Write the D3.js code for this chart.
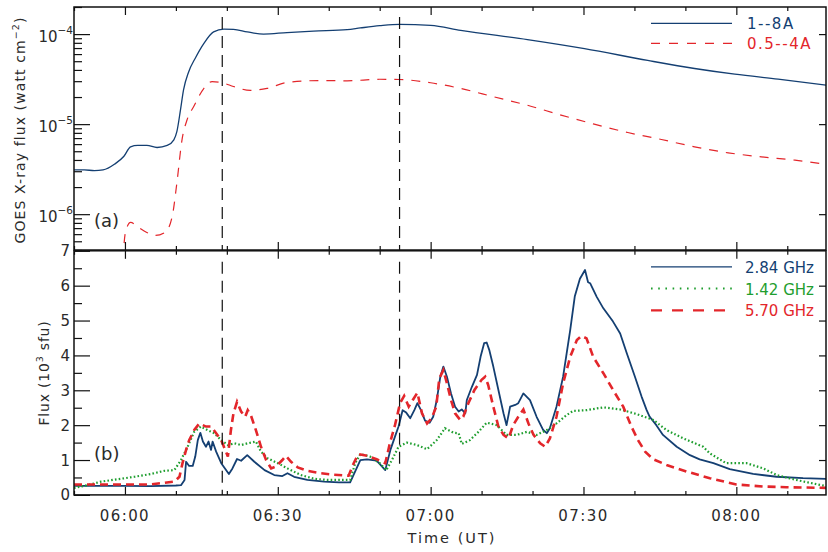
<!DOCTYPE html>
<html><head><meta charset="utf-8">
<script src="https://cdn.jsdelivr.net/npm/d3@7"></script>
<style>
body{margin:0;background:#fff}
svg{display:block}
text{font-family:"DejaVu Sans",sans-serif;fill:#2a2a2a}
</style>
</head><body>
<svg id="c" width="828" height="552"></svg>
<script>
// ---------- DATA (time in minutes after 06:00 UT) ----------
const tickTimes = [0, 30, 60, 90, 120];
const tickLabels = ["06:00", "06:30", "07:00", "07:30", "08:00"];
const minorTimes = [-10,0,10,20,30,40,50,60,70,80,90,100,110,120,130];
const markerTimes = [19.1, 53.9];

// GOES 1--8 A (watt cm^-2)
const goesLongT = [-10,-8,-6,-4.3,-2,-0.2,1.1,2.5,4.3,6.3,8.3,9.6,10.2,10.9,11.5,12.5,13.8,15.5,17.4,19.4,21.3,24,27.2,31.8,37,43.6,46.2,50,53.9,60,65.9,79,90.2,102.6,111.8,119.7,128.2,138];
const goesLongV = [3.1e-6,3.1e-6,3.05e-6,3.1e-6,3.6e-6,4.4e-6,5.6e-6,5.8e-6,5.8e-6,5.5e-6,5.8e-6,6.7e-6,8.3e-6,1.44e-5,2.4e-5,3.8e-5,5.4e-5,7.9e-5,1.06e-4,1.135e-4,1.13e-4,1.06e-4,1.0e-4,1.04e-4,1.08e-4,1.12e-4,1.17e-4,1.24e-4,1.285e-4,1.25e-4,1.10e-4,8.7e-5,6.9e-5,5.1e-5,4.15e-5,3.59e-5,3.16e-5,2.7e-5];
// GOES 0.5--4 A
const goesShortT = [-0.6,0.1,1.1,2.7,4.2,6,7.9,9.3,10.2,11.2,12.2,13.5,15.5,17.1,19.4,21.3,24.6,27.9,31.8,38.3,43.6,50,53.9,60,65.9,72.4,79,85.6,92.1,98.7,105.3,111.8,118.4,124.9,131.5,138];
const goesShortV = [2e-7,6.3e-7,8.1e-7,7.1e-7,6.3e-7,5.8e-7,6.3e-7,9.6e-7,2.24e-6,6.7e-6,1.12e-5,1.57e-5,2.5e-5,2.97e-5,2.85e-5,2.62e-5,2.37e-5,2.5e-5,2.9e-5,3.05e-5,3.03e-5,3.15e-5,3.13e-5,2.88e-5,2.49e-5,2.01e-5,1.62e-5,1.26e-5,1.0e-5,8.07e-6,6.75e-6,5.6e-6,4.8e-6,4.33e-6,3.98e-6,3.55e-6];

// Radio flux (10^3 sfu)
const r284T = [-10,0,5,10,11,11.7,12,12.6,13.3,13.8,14.3,14.8,15.3,15.9,16.4,16.9,17.2,17.9,18.9,20.4,21.1,22,22.8,24,25.4,27.4,29.3,30.9,31.9,33.2,35.8,39.1,42,44.2,44.7,46.2,47.5,49.4,51.1,52.1,53,53.7,54.5,55.2,56,56.8,57.4,58.1,58.9,59.8,60.5,61.2,61.9,62.5,63.2,64,64.8,65.5,66.1,66.8,67.1,68.1,69.1,69.8,70.5,71,71.5,72.3,73.3,74.3,74.9,75.6,76.6,77.2,78.2,79.5,80.8,82.1,82.8,83.4,84.7,86,87.4,88.3,89.3,90.3,90.9,91.3,92.6,93.9,95.8,97.2,98.5,100.1,101.4,102.4,103,104.3,105.6,108.3,110.9,112.8,115.5,118.7,123.3,127.9,133.1,138];
const r284V = [0.26,0.26,0.25,0.27,0.28,0.43,0.95,0.83,0.83,1.1,1.57,1.78,1.53,1.38,1.53,1.29,1.53,1.24,0.91,0.6,0.76,1.03,0.98,1.14,0.95,0.71,0.57,0.54,0.62,0.52,0.43,0.38,0.36,0.36,0.52,1.0,1.02,0.98,0.71,1.29,1.67,1.96,2.43,2.36,2.2,2.43,2.63,2.43,2.13,2.07,2.24,2.72,3.39,3.68,3.39,2.91,2.53,2.39,2.45,2.34,2.72,3.1,3.44,3.96,4.35,4.37,4.16,3.68,3.01,2.34,2.0,2.53,2.58,2.63,2.91,2.72,2.24,1.86,1.77,1.91,2.53,3.39,4.73,5.7,6.2,6.45,6.1,6.07,5.68,5.35,4.97,4.63,4.06,3.39,2.82,2.43,2.24,2.0,1.72,1.38,1.14,1.02,0.91,0.74,0.6,0.52,0.48,0.46];

const r142T = [-10,-7.3,-4.7,-1.4,1.9,5.1,7.7,9.7,11,12.3,13.6,14.9,16.2,17.5,18.9,20.2,21.5,22.8,24.1,25.7,26.7,28,30,31.9,34.5,37.2,39.8,44.2,45.2,46.2,48.1,50,51.3,52.4,53.7,55.3,57.3,59.3,61.2,62.8,64.5,65.5,66.1,67.7,69.4,71,73,74.9,76.9,78.9,80.8,82.8,84.7,86.7,88,90.6,93.9,97.2,100.4,103.7,106.3,109.6,113.5,114.8,118,122,125.3,127.9,131.7,138];
const r142V = [0.2,0.28,0.38,0.45,0.52,0.6,0.69,0.71,1.0,1.38,1.81,1.96,1.86,1.77,1.57,1.43,1.48,1.43,1.48,1.53,1.24,1.05,0.91,0.76,0.57,0.46,0.43,0.43,0.91,1.17,1.1,0.91,0.71,1.0,1.38,1.5,1.43,1.31,1.57,1.91,1.78,1.77,1.46,1.57,1.81,2.07,2.0,1.72,1.72,1.81,1.72,1.86,2.05,2.29,2.41,2.43,2.51,2.45,2.32,2.15,1.86,1.62,1.38,1.19,0.91,0.91,0.76,0.57,0.43,0.24];

const r570T = [-10,0,5,9.7,10.7,11.3,12,12.6,13.6,14.6,15.9,16.9,17.9,18.9,20.2,20.8,21.3,22,22.8,23.6,24.1,24.7,25.7,26.7,27.7,28.7,29.6,30.9,31.6,32.6,33.9,35.8,38.5,41,43.9,44.9,45.8,47.5,49.4,51.1,52,53,54,54.8,55.7,56.5,57.4,58.3,59.3,60.2,61.1,61.7,62.5,63.2,64,64.8,65.8,66.4,67.4,68.6,70,70.7,71.3,72.3,73.3,74.3,75.3,76.2,77.2,78.2,79.2,80.2,81.5,82.5,83.4,84.7,86,87.4,88.7,89.6,90.6,91.9,93.9,95.8,97.8,99.4,100.7,102.1,103.7,106.3,110.2,114.8,120,125.3,129.8,138];
const r570V = [0.3,0.3,0.3,0.38,0.52,0.91,1.29,1.57,1.86,2.05,1.96,1.96,1.77,1.57,1.1,1.86,2.34,2.67,2.39,2.24,2.43,2.29,1.86,1.38,1.0,0.76,0.81,1.0,1.12,0.95,0.79,0.69,0.62,0.58,0.55,0.91,1.17,1.12,1.02,0.91,1.48,2.0,2.63,2.84,2.53,2.72,2.93,2.34,2.05,2.2,2.53,3.34,3.58,3.2,2.72,2.34,2.15,2.24,2.63,3.01,3.3,3.39,3.15,2.53,1.96,1.72,1.62,2.0,2.24,2.45,2.05,1.72,1.48,1.38,1.62,2.24,3.2,3.96,4.44,4.56,4.49,3.96,3.49,3.01,2.53,1.96,1.57,1.24,1.02,0.86,0.67,0.48,0.3,0.24,0.22,0.2];

const topLegend = ["1--8A", "0.5--4A"];
const botLegend = ["2.84 GHz", "1.42 GHz", "5.70 GHz"];
const decadeTicks = [1e-6, 1e-5, 1e-4];
const decadeExp = ["\u22126", "\u22125", "\u22124"];
const fluxTicks = [0,1,2,3,4,5,6,7];

// ---------- STYLE ----------
const BLUE = "#143f72", RED = "#e3262b", GREEN = "#1f9e2f", INK = "#111";
const L = 74, R = 826, T1 = 7, B1 = 250, T2 = 250.8, B2 = 494.9;

const svg = d3.select("#c");
const x = d3.scaleLinear().domain([-10, 137.6]).range([L, R]);
const yTop = d3.scaleLog().domain([4e-7, 2e-4]).range([B1, T1]);
const yBot = d3.scaleLinear().domain([0, 7]).range([B2, T2]);

const defs = svg.append("defs");
defs.append("clipPath").attr("id", "clipTop").append("rect").attr("x", L).attr("y", T1).attr("width", R - L).attr("height", B1 - T1);
defs.append("clipPath").attr("id", "clipBot").append("rect").attr("x", L).attr("y", T2).attr("width", R - L).attr("height", B2 - T2);

const zip = (a, b) => a.map((t, i) => [t, b[i]]);

// ---------- TOP PANEL ----------
const gTop = svg.append("g").attr("clip-path", "url(#clipTop)");
const lineTop = d3.line().x(d => x(d[0])).y(d => yTop(d[1])).curve(d3.curveMonotoneX);
gTop.append("path").attr("d", lineTop(zip(goesLongT, goesLongV)))
  .attr("fill", "none").attr("stroke", BLUE).attr("stroke-width", 1.3);
gTop.append("path").attr("d", lineTop(zip(goesShortT, goesShortV)))
  .attr("fill", "none").attr("stroke", RED).attr("stroke-width", 1.2).attr("stroke-dasharray", "9,8");

// ---------- BOTTOM PANEL ----------
const gBot = svg.append("g").attr("clip-path", "url(#clipBot)");
const lineBot = d3.line().x(d => x(d[0])).y(d => yBot(d[1]));
gBot.append("path").attr("d", lineBot(zip(r284T, r284V)))
  .attr("fill", "none").attr("stroke", BLUE).attr("stroke-width", 1.8).attr("stroke-linejoin", "round");
gBot.append("path").attr("d", lineBot(zip(r142T, r142V)))
  .attr("fill", "none").attr("stroke", GREEN).attr("stroke-width", 2.2).attr("stroke-dasharray", "1.6,2.2");
gBot.append("path").attr("d", lineBot(zip(r570T, r570V)))
  .attr("fill", "none").attr("stroke", RED).attr("stroke-width", 2.6).attr("stroke-dasharray", "8,5");

// ---------- marker lines ----------
markerTimes.forEach(t => {
  svg.append("line").attr("x1", x(t)).attr("x2", x(t)).attr("y1", T1 + 10).attr("y2", B1)
    .attr("stroke", INK).attr("stroke-width", 1.2).attr("stroke-dasharray", "12,7");
  svg.append("line").attr("x1", x(t)).attr("x2", x(t)).attr("y1", T2 + 11).attr("y2", B2)
    .attr("stroke", INK).attr("stroke-width", 1.2).attr("stroke-dasharray", "12,7");
});

// ---------- AXES ----------
function styleAxis(g) {
  g.select(".domain").remove();
  g.selectAll(".tick line").attr("stroke", INK).attr("stroke-width", 1.2);
  g.selectAll("text").remove();
}
// x ticks for both panels (inward)
[[T1, "top"], [B1, "bottom"], [T2, "top"], [B2, "bottom"]].forEach(([yy, side]) => {
  const maj = side === "top" ? d3.axisTop(x).tickSize(-8) : d3.axisBottom(x).tickSize(-8);
  const min = side === "top" ? d3.axisTop(x).tickSize(-4) : d3.axisBottom(x).tickSize(-4);
  svg.append("g").attr("transform", `translate(0,${yy})`).call(maj.tickValues(tickTimes)).call(styleAxis);
  svg.append("g").attr("transform", `translate(0,${yy})`).call(min.tickValues(minorTimes.filter(t => !tickTimes.includes(t)))).call(styleAxis);
});
// top panel y
const minorLog = [];
[1e-7, 1e-6, 1e-5, 1e-4].forEach(d => { for (let k = 2; k <= 9; k++) { const v = k * d; if (v >= 4e-7 && v <= 2e-4) minorLog.push(v); } });
svg.append("g").attr("transform", `translate(${L},0)`).call(d3.axisLeft(yTop).tickValues(decadeTicks).tickSize(-16)).call(styleAxis);
svg.append("g").attr("transform", `translate(${L},0)`).call(d3.axisLeft(yTop).tickValues(minorLog).tickSize(-8)).call(styleAxis);
svg.append("g").attr("transform", `translate(${R},0)`).call(d3.axisRight(yTop).tickValues(decadeTicks).tickSize(-7)).call(styleAxis);
// bottom panel y
svg.append("g").attr("transform", `translate(${L},0)`).call(d3.axisLeft(yBot).tickValues(fluxTicks).tickSize(-16)).call(styleAxis);
svg.append("g").attr("transform", `translate(${L},0)`).call(d3.axisLeft(yBot).tickValues([0.5,1.5,2.5,3.5,4.5,5.5,6.5]).tickSize(-8)).call(styleAxis);
svg.append("g").attr("transform", `translate(${R},0)`).call(d3.axisRight(yBot).tickValues([1,2,3,4,5,6]).tickSize(-7)).call(styleAxis);

// frames
svg.append("rect").attr("x", L).attr("y", T1).attr("width", R - L).attr("height", B1 - T1)
  .attr("fill", "none").attr("stroke", INK).attr("stroke-width", 1.5);
svg.append("rect").attr("x", L).attr("y", T2).attr("width", R - L).attr("height", B2 - T2)
  .attr("fill", "none").attr("stroke", INK).attr("stroke-width", 1.5);

// ---------- TEXT ----------
// x tick labels
tickTimes.forEach((t, i) => {
  svg.append("text").attr("x", x(t)).attr("y", 521).attr("text-anchor", "middle")
    .attr("font-size", 15).attr("letter-spacing", 1.4).text(tickLabels[i]);
});
svg.append("text").attr("x", 452).attr("y", 543).attr("text-anchor", "middle")
  .attr("font-size", 14.5).attr("letter-spacing", 2).text("Time (UT)");

// log labels
decadeTicks.forEach((v, i) => {
  const t = svg.append("text").attr("x", 73).attr("y", yTop(v) + 8).attr("text-anchor", "end").attr("font-size", 15);
  t.append("tspan").text("10");
  t.append("tspan").attr("dy", -8).attr("font-size", 10.5).text(decadeExp[i]);
});
// flux labels
fluxTicks.forEach(v => {
  svg.append("text").attr("x", 70).attr("y", yBot(v) + 5.5).attr("text-anchor", "end")
    .attr("font-size", 15).text(String(v));
});

// y titles
const t1 = svg.append("text").attr("transform", "translate(25,130) rotate(-90)").attr("text-anchor", "middle")
  .attr("font-size", 14).attr("letter-spacing", 1.1);
t1.append("tspan").text("GOES X-ray flux (watt cm");
t1.append("tspan").attr("dy", -6).attr("font-size", 9.5).text("\u22122");
t1.append("tspan").attr("dy", 6).text(")");
const t2 = svg.append("text").attr("transform", "translate(49,373) rotate(-90)").attr("text-anchor", "middle")
  .attr("font-size", 14).attr("letter-spacing", 0.8);
t2.append("tspan").text("Flux (10");
t2.append("tspan").attr("dy", -6).attr("font-size", 9.5).text("3");
t2.append("tspan").attr("dy", 6).text(" sfu)");

// panel tags
svg.append("text").attr("x", 94).attr("y", 227).attr("font-size", 18).text("(a)");
svg.append("text").attr("x", 94).attr("y", 460).attr("font-size", 18).text("(b)");

// legends
const topLeg = [{c: BLUE, d: null, w: 1.3}, {c: RED, d: "9,9", w: 1.2}];
topLegend.forEach((s, i) => {
  const yy = 23.3 + i * 20;
  svg.append("line").attr("x1", 651).attr("x2", 732).attr("y1", yy).attr("y2", yy)
    .attr("stroke", topLeg[i].c).attr("stroke-width", topLeg[i].w).attr("stroke-dasharray", topLeg[i].d);
  svg.append("text").attr("x", 747).attr("y", yy + 6).attr("font-size", 15).attr("letter-spacing", 1.5)
    .style("fill", topLeg[i].c).text(s);
});
const botLeg = [{c: BLUE, d: null, w: 1.3}, {c: GREEN, d: "1.6,5.6", w: 2}, {c: RED, d: "11,10", w: 2.2}];
botLegend.forEach((s, i) => {
  const yy = 266.8 + i * 21.8;
  svg.append("line").attr("x1", 651).attr("x2", 732).attr("y1", yy).attr("y2", yy)
    .attr("stroke", botLeg[i].c).attr("stroke-width", botLeg[i].w).attr("stroke-dasharray", botLeg[i].d);
  svg.append("text").attr("x", 745).attr("y", yy + 6).attr("font-size", 15)
    .style("fill", botLeg[i].c).text(s);
});
</script>
</body></html>
